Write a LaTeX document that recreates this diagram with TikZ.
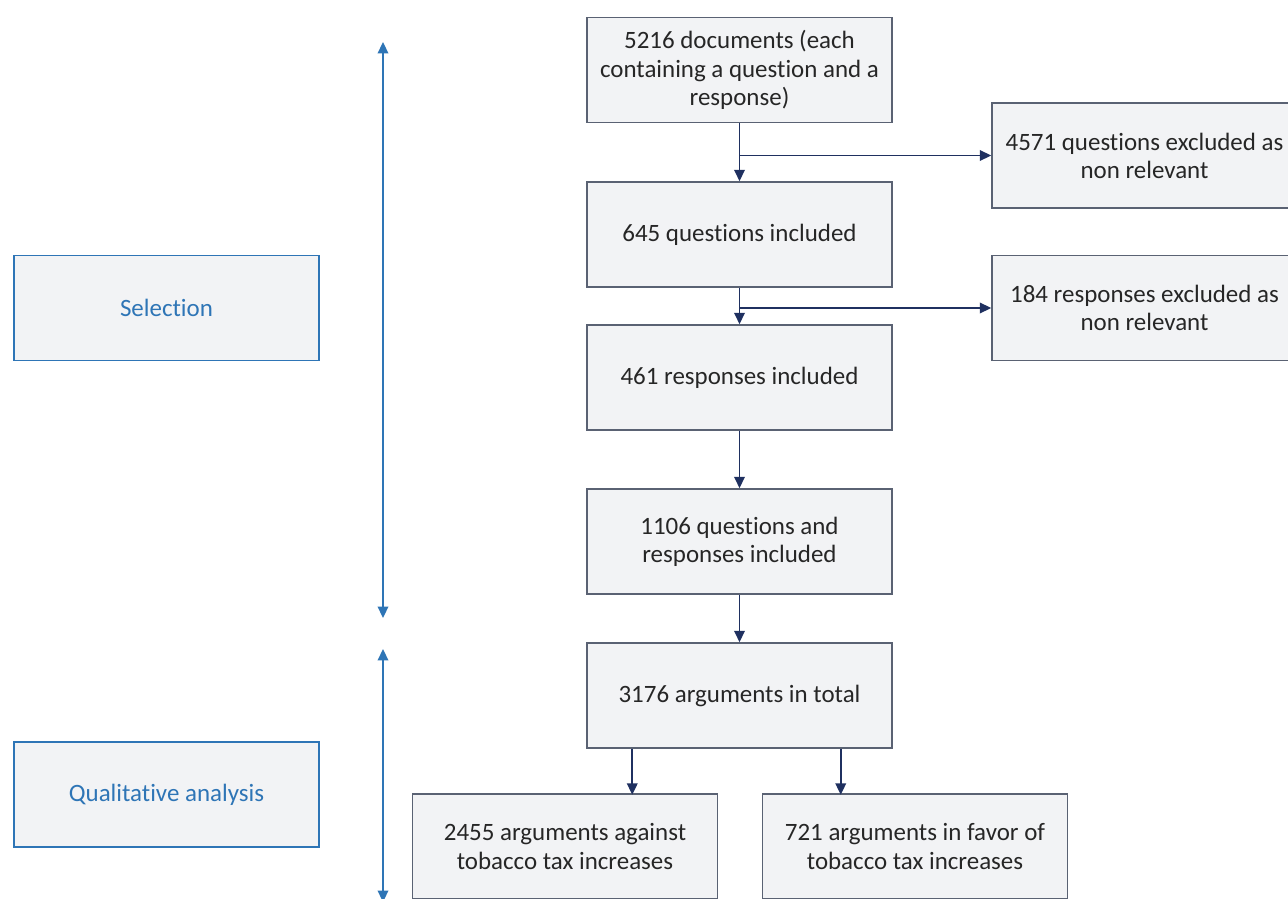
\documentclass[tikz,border=0pt]{standalone}
\usepackage{fontspec}
\setmainfont{Carlito}[Ligatures=NoCommon]
\usepackage{tikz}
\usetikzlibrary{arrows.meta}
\definecolor{boxfill}{HTML}{F2F3F5}
\definecolor{boxline}{HTML}{5A6273}
\definecolor{flowline}{HTML}{1F3060}
\definecolor{phaseblue}{HTML}{2E75B6}
\definecolor{textgray}{HTML}{262626}
\tikzset{
	flowbox/.style={draw=boxline, fill=boxfill, line width=0.9pt, minimum width=6.1cm, minimum height=2.1cm, align=center, text=textgray, font=\fontsize{14.2}{16}\selectfont},
	phasebox/.style={flowbox, draw=phaseblue, text=phaseblue},
	flow/.style={->, >={Triangle[length=6.5pt,width=6pt]}, draw=flowline, line width=1pt},
	phase/.style={<->, >={Triangle[length=6.5pt,width=6pt]}, draw=phaseblue, line width=1pt}
}

\begin{document}
\begin{tikzpicture}[x=0.02cm, y=-0.02cm]
		\useasboundingbox (0,0) rectangle (1288,899);

		\node[flowbox] (docs) at (739.5,70) {5216 documents (each\\containing a question and a\\response)};
		\node[flowbox] (questions) at (739.5,234.5) {645 questions included};
		\node[flowbox] (responses) at (739.5,377.5) {461 responses included};
		\node[flowbox] (included) at (739.5,541.5) {1106 questions and\\responses included};
		\node[flowbox] (total) at (739.5,695.5) {3176 arguments in total};
		\node[flowbox] (against) at (565,846.5) {2455 arguments against\\tobacco tax increases};
		\node[flowbox] (favor) at (915,846.5) {721 arguments in favor of\\tobacco tax increases};
		\node[flowbox] (exclq) at (1144.5,155.5) {4571 questions excluded as\\non relevant};
		\node[flowbox] (exclr) at (1144.5,308) {184 responses excluded as\\non relevant};

		\node[phasebox] (selection) at (166.5,308) {Selection};
		\node[phasebox] (analysis) at (166.5,794.5) {Qualitative analysis};

		\coordinate (seltop) at (383,42);
		\coordinate (selbot) at (383,618);
		\coordinate (anatop) at (383,649);
		\coordinate (anabot) at (383,902);

		\draw[flow] (docs) -- (questions);
		\draw[flow] (questions) -- (responses);
		\draw[flow] (responses) -- (included);
		\draw[flow] (included) -- (total);
		\draw[flow] (docs.south |- exclq.west) -- (exclq.west);
		\draw[flow] (questions.south |- exclr.west) -- (exclr.west);
		\draw[flow] (total.south -| against.north east) ++(-86,0) -- ++(0,46);
		\draw[flow] (total.south -| favor.north west) ++(79,0) -- ++(0,46);

		\draw[phase] (seltop) -- (selbot);
		\draw[phase] (anatop) -- (anabot);
	\end{tikzpicture}
\end{document}
